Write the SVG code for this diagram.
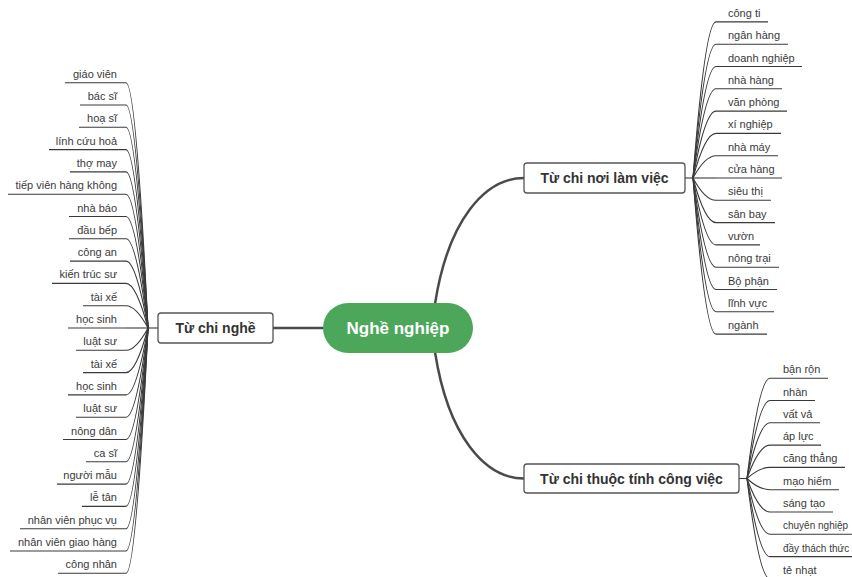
<svg xmlns="http://www.w3.org/2000/svg" width="852" height="577" viewBox="0 0 852 577">
<style>
.bg{fill:#ffffff}
.main{fill:none;stroke:#4a4a4a;stroke-width:2.5;stroke-linecap:round}
.leafc{fill:none;stroke:#3a3a3a;stroke-width:1.1}
.ul{stroke:#3a3a3a;stroke-width:1.1}
.box{fill:#ffffff;stroke:#555555;stroke-width:1.3}
.center{fill:#4ca75a}
.t{font-family:"Liberation Sans",Arial,sans-serif;font-size:11px;fill:#3a3a3a}
.ts{font-size:10px}
.tl{text-anchor:end}
.bt{font-family:"Liberation Sans",Arial,sans-serif;font-size:14px;font-weight:bold;fill:#333333;text-anchor:middle}
.ct{font-family:"Liberation Sans",Arial,sans-serif;font-size:17px;font-weight:bold;fill:#ffffff;text-anchor:middle}
</style>
<rect class="bg" x="0" y="0" width="852" height="577"/>
<g id="connectors">
<path class="main" d="M273,328 L323,328"/>
<path class="main" d="M435,304 C448,220 485,178 524,178"/>
<path class="main" d="M435,352 C448,436 485,478.5 524,478.5"/>
<path class="leafc" d="M158,328 L148,328"/>
<path class="leafc" d="M685,178 L693,178"/>
<path class="leafc" d="M739,478.5 L747,478.5"/>
<path class="leafc" d="M148,328 Q136,82.7 126,82.7"/>
<path class="leafc" d="M148,328 Q136,105 126,105"/>
<path class="leafc" d="M148,328 Q136,127.3 126,127.3"/>
<path class="leafc" d="M148,328 Q136,149.6 126,149.6"/>
<path class="leafc" d="M148,328 Q136,171.9 126,171.9"/>
<path class="leafc" d="M148,328 Q136,194.2 126,194.2"/>
<path class="leafc" d="M148,328 Q136,216.5 126,216.5"/>
<path class="leafc" d="M148,328 Q136,238.8 126,238.8"/>
<path class="leafc" d="M148,328 Q136,261.1 126,261.1"/>
<path class="leafc" d="M148,328 Q136,283.4 126,283.4"/>
<path class="leafc" d="M148,328 Q136,305.7 126,305.7"/>
<path class="leafc" d="M148,328 L126,328"/>
<path class="leafc" d="M148,328 Q136,350.3 126,350.3"/>
<path class="leafc" d="M148,328 Q136,372.6 126,372.6"/>
<path class="leafc" d="M148,328 Q136,394.9 126,394.9"/>
<path class="leafc" d="M148,328 Q136,417.2 126,417.2"/>
<path class="leafc" d="M148,328 Q136,439.5 126,439.5"/>
<path class="leafc" d="M148,328 Q136,461.8 126,461.8"/>
<path class="leafc" d="M148,328 Q136,484.1 126,484.1"/>
<path class="leafc" d="M148,328 Q136,506.4 126,506.4"/>
<path class="leafc" d="M148,328 Q136,528.7 126,528.7"/>
<path class="leafc" d="M148,328 Q136,551 126,551"/>
<path class="leafc" d="M148,328 Q136,573.3 126,573.3"/>
<path class="leafc" d="M693,178 Q705,21.9 716,21.9"/>
<path class="leafc" d="M693,178 Q705,44.2 716,44.2"/>
<path class="leafc" d="M693,178 Q705,66.5 716,66.5"/>
<path class="leafc" d="M693,178 Q705,88.8 716,88.8"/>
<path class="leafc" d="M693,178 Q705,111.1 716,111.1"/>
<path class="leafc" d="M693,178 Q705,133.4 716,133.4"/>
<path class="leafc" d="M693,178 Q705,155.7 716,155.7"/>
<path class="leafc" d="M693,178 L716,178"/>
<path class="leafc" d="M693,178 Q705,200.3 716,200.3"/>
<path class="leafc" d="M693,178 Q705,222.6 716,222.6"/>
<path class="leafc" d="M693,178 Q705,244.9 716,244.9"/>
<path class="leafc" d="M693,178 Q705,267.2 716,267.2"/>
<path class="leafc" d="M693,178 Q705,289.5 716,289.5"/>
<path class="leafc" d="M693,178 Q705,311.8 716,311.8"/>
<path class="leafc" d="M693,178 Q705,334.1 716,334.1"/>
<path class="leafc" d="M747,478.5 Q759,378.2 770,378.2"/>
<path class="leafc" d="M747,478.5 Q759,400.5 770,400.5"/>
<path class="leafc" d="M747,478.5 Q759,422.8 770,422.8"/>
<path class="leafc" d="M747,478.5 Q759,445.1 770,445.1"/>
<path class="leafc" d="M747,478.5 Q759,467.4 770,467.4"/>
<path class="leafc" d="M747,478.5 Q759,489.7 770,489.7"/>
<path class="leafc" d="M747,478.5 Q759,512 770,512"/>
<path class="leafc" d="M747,478.5 Q759,534.3 770,534.3"/>
<path class="leafc" d="M747,478.5 Q759,556.6 770,556.6"/>
<path class="leafc" d="M747,478.5 Q759,578.9 770,578.9"/>
</g>
<g id="center">
<rect class="center" x="323" y="303" width="150" height="50" rx="25"/>
<text class="ct" x="398" y="334">Nghề nghiệp</text>
</g>
<g id="nghe">
<rect class="box" x="158" y="313" width="115" height="30" rx="3"/>
<text class="bt" x="215.5" y="333">Từ chi nghề</text>
</g>
<g id="noi-lam-viec">
<rect class="box" x="524" y="163" width="161" height="30" rx="3"/>
<text class="bt" x="604.5" y="183">Từ chi nơi làm việc</text>
</g>
<g id="thuoc-tinh">
<rect class="box" x="524" y="464" width="215" height="29" rx="3"/>
<text class="bt" x="631.5" y="483.5">Từ chi thuộc tính công việc</text>
</g>
<g id="l0"><line class="ul" x1="65" y1="82.7" x2="126" y2="82.7"/><text class="t tl" x="117" y="77.7">giáo viên</text></g>
<g id="l1"><line class="ul" x1="80" y1="105" x2="126" y2="105"/><text class="t tl" x="117" y="100">bác sĩ</text></g>
<g id="l2"><line class="ul" x1="79" y1="127.3" x2="126" y2="127.3"/><text class="t tl" x="117" y="122.3">hoạ sĩ</text></g>
<g id="l3"><line class="ul" x1="49" y1="149.6" x2="126" y2="149.6"/><text class="t tl" x="117" y="144.6">lính cứu hoả</text></g>
<g id="l4"><line class="ul" x1="70" y1="171.9" x2="126" y2="171.9"/><text class="t tl" x="117" y="166.9">thợ may</text></g>
<g id="l5"><line class="ul" x1="8" y1="194.2" x2="126" y2="194.2"/><text class="t tl" x="117" y="189.2">tiếp viên hàng không</text></g>
<g id="l6"><line class="ul" x1="69" y1="216.5" x2="126" y2="216.5"/><text class="t tl" x="117" y="211.5">nhà báo</text></g>
<g id="l7"><line class="ul" x1="69" y1="238.8" x2="126" y2="238.8"/><text class="t tl" x="117" y="233.8">đầu bếp</text></g>
<g id="l8"><line class="ul" x1="70" y1="261.1" x2="126" y2="261.1"/><text class="t tl" x="117" y="256.1">công an</text></g>
<g id="l9"><line class="ul" x1="52" y1="283.4" x2="126" y2="283.4"/><text class="t tl" x="117" y="278.4">kiến trúc sư</text></g>
<g id="l10"><line class="ul" x1="83" y1="305.7" x2="126" y2="305.7"/><text class="t tl" x="117" y="300.7">tài xế</text></g>
<g id="l11"><line class="ul" x1="68" y1="328" x2="126" y2="328"/><text class="t tl" x="117" y="323">học sinh</text></g>
<g id="l12"><line class="ul" x1="76" y1="350.3" x2="126" y2="350.3"/><text class="t tl" x="117" y="345.3">luật sư</text></g>
<g id="l13"><line class="ul" x1="83" y1="372.6" x2="126" y2="372.6"/><text class="t tl" x="117" y="367.6">tài xế</text></g>
<g id="l14"><line class="ul" x1="68" y1="394.9" x2="126" y2="394.9"/><text class="t tl" x="117" y="389.9">học sinh</text></g>
<g id="l15"><line class="ul" x1="76" y1="417.2" x2="126" y2="417.2"/><text class="t tl" x="117" y="412.2">luật sư</text></g>
<g id="l16"><line class="ul" x1="63" y1="439.5" x2="126" y2="439.5"/><text class="t tl" x="117" y="434.5">nông dân</text></g>
<g id="l17"><line class="ul" x1="86" y1="461.8" x2="126" y2="461.8"/><text class="t tl" x="117" y="456.8">ca sĩ</text></g>
<g id="l18"><line class="ul" x1="57" y1="484.1" x2="126" y2="484.1"/><text class="t tl" x="117" y="479.1">người mẫu</text></g>
<g id="l19"><line class="ul" x1="82" y1="506.4" x2="126" y2="506.4"/><text class="t tl" x="117" y="501.4">lễ tân</text></g>
<g id="l20"><line class="ul" x1="20" y1="528.7" x2="126" y2="528.7"/><text class="t tl" x="117" y="523.7">nhân viên phục vụ</text></g>
<g id="l21"><line class="ul" x1="10" y1="551" x2="126" y2="551"/><text class="t tl" x="117" y="546">nhân viên giao hàng</text></g>
<g id="l22"><line class="ul" x1="58" y1="573.3" x2="126" y2="573.3"/><text class="t tl" x="117" y="568.3">công nhân</text></g>
<g id="r0"><line class="ul" x1="716" y1="21.9" x2="768" y2="21.9"/><text class="t" x="728" y="16.9">công ti</text></g>
<g id="r1"><line class="ul" x1="716" y1="44.2" x2="788" y2="44.2"/><text class="t" x="728" y="39.2">ngân hàng</text></g>
<g id="r2"><line class="ul" x1="716" y1="66.5" x2="802" y2="66.5"/><text class="t" x="728" y="61.5">doanh nghiệp</text></g>
<g id="r3"><line class="ul" x1="716" y1="88.8" x2="782" y2="88.8"/><text class="t" x="728" y="83.8">nhà hàng</text></g>
<g id="r4"><line class="ul" x1="716" y1="111.1" x2="787" y2="111.1"/><text class="t" x="728" y="106.1">văn phòng</text></g>
<g id="r5"><line class="ul" x1="716" y1="133.4" x2="781" y2="133.4"/><text class="t" x="728" y="128.4">xí nghiệp</text></g>
<g id="r6"><line class="ul" x1="716" y1="155.7" x2="778" y2="155.7"/><text class="t" x="728" y="150.7">nhà máy</text></g>
<g id="r7"><line class="ul" x1="716" y1="178" x2="782" y2="178"/><text class="t" x="728" y="173">cửa hàng</text></g>
<g id="r8"><line class="ul" x1="716" y1="200.3" x2="771" y2="200.3"/><text class="t" x="728" y="195.3">siêu thị</text></g>
<g id="r9"><line class="ul" x1="716" y1="222.6" x2="775" y2="222.6"/><text class="t" x="728" y="217.6">sân bay</text></g>
<g id="r10"><line class="ul" x1="716" y1="244.9" x2="760" y2="244.9"/><text class="t" x="728" y="239.9">vườn</text></g>
<g id="r11"><line class="ul" x1="716" y1="267.2" x2="779" y2="267.2"/><text class="t" x="728" y="262.2">nông trại</text></g>
<g id="r12"><line class="ul" x1="716" y1="289.5" x2="777" y2="289.5"/><text class="t" x="728" y="284.5">Bộ phận</text></g>
<g id="r13"><line class="ul" x1="716" y1="311.8" x2="774" y2="311.8"/><text class="t" x="728" y="306.8">lĩnh vực</text></g>
<g id="r14"><line class="ul" x1="716" y1="334.1" x2="767" y2="334.1"/><text class="t" x="728" y="329.1">ngành</text></g>
<g id="p0"><line class="ul" x1="770" y1="378.2" x2="828" y2="378.2"/><text class="t" x="783" y="373.2">bận rộn</text></g>
<g id="p1"><line class="ul" x1="770" y1="400.5" x2="815" y2="400.5"/><text class="t" x="783" y="395.5">nhàn</text></g>
<g id="p2"><line class="ul" x1="770" y1="422.8" x2="820" y2="422.8"/><text class="t" x="783" y="417.8">vất vả</text></g>
<g id="p3"><line class="ul" x1="770" y1="445.1" x2="821" y2="445.1"/><text class="t" x="783" y="440.1">áp lực</text></g>
<g id="p4"><line class="ul" x1="770" y1="467.4" x2="845" y2="467.4"/><text class="t" x="783" y="462.4">căng thẳng</text></g>
<g id="p5"><line class="ul" x1="770" y1="489.7" x2="839" y2="489.7"/><text class="t" x="783" y="484.7">mạo hiểm</text></g>
<g id="p6"><line class="ul" x1="770" y1="512" x2="833" y2="512"/><text class="t" x="783" y="507">sáng tạo</text></g>
<g id="p7"><line class="ul" x1="770" y1="534.3" x2="852" y2="534.3"/><text class="t ts" x="783" y="529.3">chuyên nghiệp</text></g>
<g id="p8"><line class="ul" x1="770" y1="556.6" x2="852" y2="556.6"/><text class="t ts" x="783" y="551.6">đầy thách thức</text></g>
<g id="p9"><line class="ul" x1="770" y1="578.9" x2="825" y2="578.9"/><text class="t" x="783" y="573.9">tẻ nhạt</text></g>
</svg>
